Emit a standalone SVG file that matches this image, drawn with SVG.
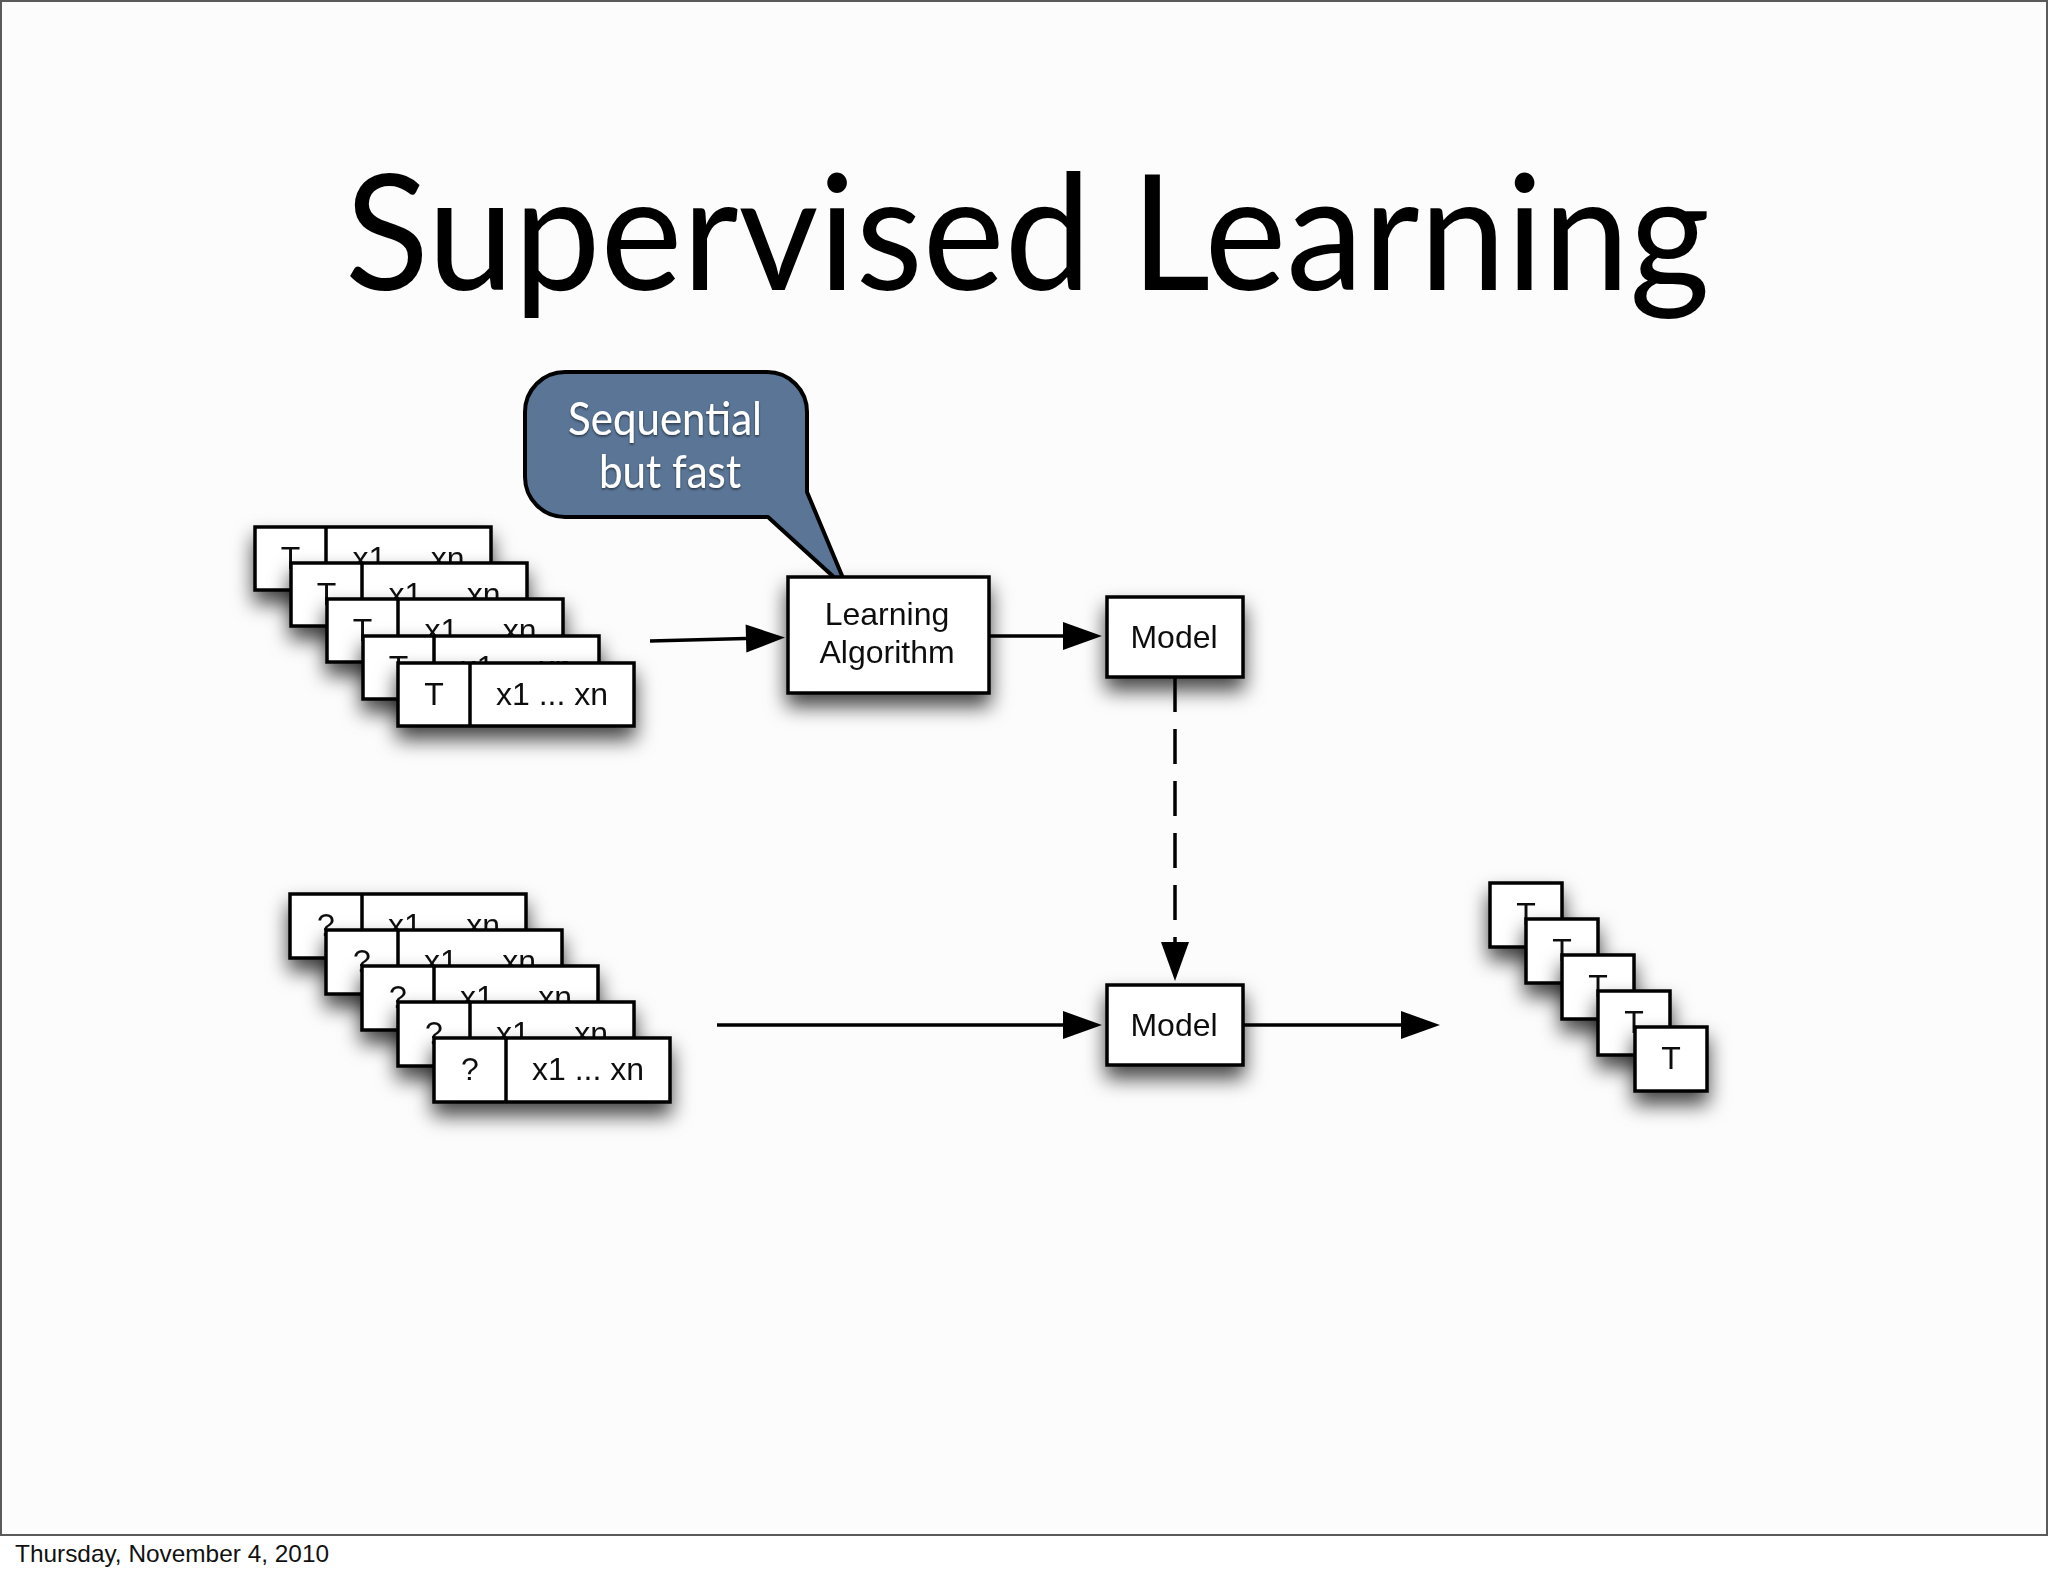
<svg xmlns="http://www.w3.org/2000/svg" width="2048" height="1576" viewBox="0 0 2048 1576">
<style>
.box{fill:#ffffff;stroke:#000;stroke-width:3.5}
.div{stroke:#000;stroke-width:3.5}
.lbl{font-family:"Liberation Sans",Arial,sans-serif;font-size:32px;fill:#111;text-anchor:middle}
.conn{stroke:#000;stroke-width:3.5;fill:none}
.bub{font-family:Lato,"Open Sans",sans-serif;font-size:46px;fill:#ffffff;text-anchor:middle}
</style>
<defs>
<filter id="sh" x="-40%" y="-40%" width="180%" height="200%">
<feDropShadow dx="0" dy="12" stdDeviation="10" flood-color="#000" flood-opacity="0.72"/>
</filter>
<filter id="tsh" x="-10%" y="-30%" width="120%" height="160%">
<feDropShadow dx="0" dy="1.5" stdDeviation="1.2" flood-color="#000" flood-opacity="0.55"/>
</filter>
<marker id="ah" markerUnits="userSpaceOnUse" markerWidth="40" markerHeight="30" refX="0" refY="15" orient="auto" overflow="visible">
<path d="M0,1 L39,15 L0,29 Z" fill="#000"/>
</marker>
</defs>
<rect x="0" y="0" width="2048" height="1576" fill="#ffffff"/>
<rect x="1" y="1" width="2046" height="1534" fill="#fcfcfc" stroke="#5a5a5a" stroke-width="2"/>
<text x="345" y="290" font-family="Lato,'Open Sans',sans-serif" font-size="162" fill="#000" textLength="1365" lengthAdjust="spacingAndGlyphs">Supervised Learning</text>
<text x="15" y="1562" font-family="'Liberation Sans',Arial,sans-serif" font-size="24" fill="#111" textLength="314" lengthAdjust="spacingAndGlyphs">Thursday, November 4, 2010</text>

<g id="connectors">
<line class="conn" x1="650" y1="641" x2="746" y2="638.5" marker-end="url(#ah)"/>
<line class="conn" x1="989" y1="636" x2="1063" y2="636" marker-end="url(#ah)"/>
<line class="conn" x1="1175" y1="677" x2="1175" y2="942" stroke-dasharray="35 17" marker-end="url(#ah)"/>
<line class="conn" x1="717" y1="1025" x2="1063" y2="1025" marker-end="url(#ah)"/>
<line class="conn" x1="1243" y1="1025" x2="1401" y2="1025" marker-end="url(#ah)"/>
</g>

<g id="training-data">
<g filter="url(#sh)"><rect class="box" x="255" y="527" width="236" height="63"/><line class="div" x1="326" y1="527" x2="326" y2="590"/><text class="lbl" x="290.5" y="569">T</text><text class="lbl" x="408.5" y="569">x1 ... xn</text></g>
<g filter="url(#sh)"><rect class="box" x="291" y="563" width="236" height="63"/><line class="div" x1="362" y1="563" x2="362" y2="626"/><text class="lbl" x="326.5" y="605">T</text><text class="lbl" x="444.5" y="605">x1 ... xn</text></g>
<g filter="url(#sh)"><rect class="box" x="327" y="599" width="236" height="63"/><line class="div" x1="398" y1="599" x2="398" y2="662"/><text class="lbl" x="362.5" y="641">T</text><text class="lbl" x="480.5" y="641">x1 ... xn</text></g>
<g filter="url(#sh)"><rect class="box" x="363" y="636" width="236" height="63"/><line class="div" x1="434" y1="636" x2="434" y2="699"/><text class="lbl" x="398.5" y="678">T</text><text class="lbl" x="516.5" y="678">x1 ... xn</text></g>
<g filter="url(#sh)"><rect class="box" x="398" y="663" width="236" height="63"/><line class="div" x1="470" y1="663" x2="470" y2="726"/><text class="lbl" x="434" y="705">T</text><text class="lbl" x="552" y="705">x1 ... xn</text></g>
</g>

<g id="callout">
<path d="M565,372 H767 A40,40 0 0 1 807,412 V492 L848,590 L768,517 H565 A40,40 0 0 1 525,477 V412 A40,40 0 0 1 565,372 Z" fill="#5a7596" stroke="#000" stroke-width="4" stroke-linejoin="round"/>
<g filter="url(#tsh)">
<text class="bub" x="665" y="435" textLength="194" lengthAdjust="spacingAndGlyphs">Sequential</text>
<text class="bub" x="670" y="488" textLength="142" lengthAdjust="spacingAndGlyphs">but fast</text>
</g>
</g>

<g id="learning-algorithm" filter="url(#sh)">
<rect class="box" x="788" y="577" width="201" height="116"/>
<text class="lbl" x="887" y="625">Learning</text>
<text class="lbl" x="887" y="663">Algorithm</text>
</g>

<g id="model-top" filter="url(#sh)">
<rect class="box" x="1107" y="597" width="136" height="80"/>
<text class="lbl" x="1174" y="648" font-size="33">Model</text>
</g>

<g id="model-bottom" filter="url(#sh)">
<rect class="box" x="1107" y="985" width="136" height="80"/>
<text class="lbl" x="1174" y="1036" font-size="33">Model</text>
</g>

<g id="test-data">
<g filter="url(#sh)"><rect class="box" x="290" y="894" width="236" height="64"/><line class="div" x1="362" y1="894" x2="362" y2="958"/><text class="lbl" x="326" y="936">?</text><text class="lbl" x="444" y="936">x1 ... xn</text></g>
<g filter="url(#sh)"><rect class="box" x="326" y="930" width="236" height="64"/><line class="div" x1="398" y1="930" x2="398" y2="994"/><text class="lbl" x="362" y="972">?</text><text class="lbl" x="480" y="972">x1 ... xn</text></g>
<g filter="url(#sh)"><rect class="box" x="362" y="966" width="236" height="64"/><line class="div" x1="434" y1="966" x2="434" y2="1030"/><text class="lbl" x="398" y="1008">?</text><text class="lbl" x="516" y="1008">x1 ... xn</text></g>
<g filter="url(#sh)"><rect class="box" x="398" y="1002" width="236" height="64"/><line class="div" x1="470" y1="1002" x2="470" y2="1066"/><text class="lbl" x="434" y="1044">?</text><text class="lbl" x="552" y="1044">x1 ... xn</text></g>
<g filter="url(#sh)"><rect class="box" x="434" y="1038" width="236" height="64"/><line class="div" x1="506" y1="1038" x2="506" y2="1102"/><text class="lbl" x="470" y="1080">?</text><text class="lbl" x="588" y="1080">x1 ... xn</text></g>
</g>

<g id="predictions">
<g filter="url(#sh)"><rect class="box" x="1490" y="883" width="72" height="64"/><text class="lbl" x="1526" y="925">T</text></g>
<g filter="url(#sh)"><rect class="box" x="1526" y="919" width="72" height="64"/><text class="lbl" x="1562" y="961">T</text></g>
<g filter="url(#sh)"><rect class="box" x="1562" y="955" width="72" height="64"/><text class="lbl" x="1598" y="997">T</text></g>
<g filter="url(#sh)"><rect class="box" x="1598" y="991" width="72" height="64"/><text class="lbl" x="1634" y="1033">T</text></g>
<g filter="url(#sh)"><rect class="box" x="1635" y="1027" width="72" height="64"/><text class="lbl" x="1671" y="1069">T</text></g>
</g>
</svg>
